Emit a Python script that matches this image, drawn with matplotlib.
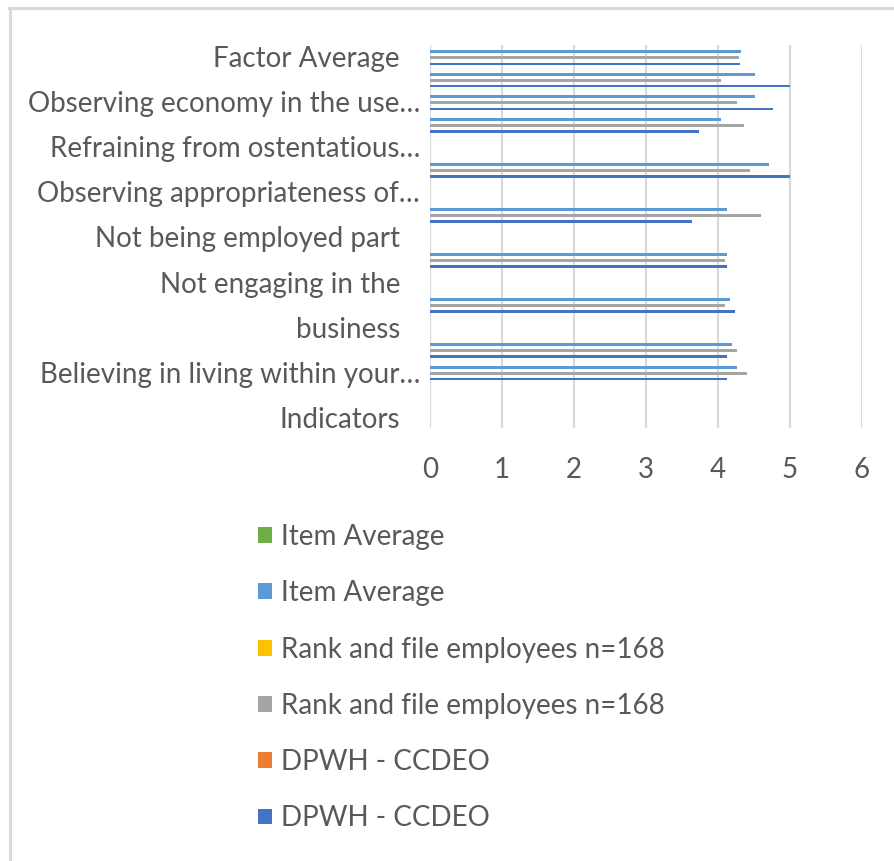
import numpy as np
import matplotlib
matplotlib.use("Agg")
import matplotlib.pyplot as plt
from matplotlib.lines import Line2D
from matplotlib.transforms import offset_copy

plt.rcParams["font.family"] = ["Lato", "DejaVu Sans"]

# Categories, listed top to bottom as they appear on the chart
categories = [
    "Factor Average", "", "Observing economy in the use…", "",
    "Refraining from ostentatious…", "", "Observing appropriateness of…", "",
    "Not being employed part", "", "Not engaging in the", "",
    "business", "", "Believing in living within your…", "", "Indicators",
]

nan = np.nan
item_average_green = [nan] * len(categories)
item_average_blue = [4.32, 4.51, 4.51, 4.04, nan, 4.71, nan, 4.12, nan,
                     4.12, nan, 4.17, nan, 4.19, 4.26, nan, nan]
rank_file_yellow = [nan] * len(categories)
rank_file_gray = [4.29, 4.04, 4.26, 4.36, nan, 4.44, nan, 4.60, nan,
                  4.10, nan, 4.10, nan, 4.26, 4.40, nan, nan]
dpwh_orange = [nan] * len(categories)
dpwh_blue = [4.31, 5.00, 4.76, 3.74, nan, 5.00, nan, 3.64, nan,
             4.12, nan, 4.24, nan, 4.12, 4.12, nan, nan]

series_labels = ["Item Average", "Item Average",
                 "Rank and file employees n=168", "Rank and file employees n=168",
                 "DPWH - CCDEO", "DPWH - CCDEO"]
x_ticks = [0, 1, 2, 3, 4, 5, 6]

# series in slot order within each group, top slot first
series = [item_average_green, item_average_blue, rank_file_yellow,
          rank_file_gray, dpwh_orange, dpwh_blue]
colors = ["#70AD47", "#5B9BD5", "#FFC000", "#A5A5A5", "#ED7D31", "#4472C4"]
thickness = [0.14, 0.14, 0.13, 0.13, 0.105, 0.105]

TEXT = "#595959"
GRID = "#D9D9D9"

W, H = 894, 861
fig = plt.figure(figsize=(W / 100, H / 100), dpi=100)
ax = fig.add_axes([430 / W, 1 - 428 / H, 432 / W, 383 / H])

n = len(categories)
ypos = np.arange(n)[::-1]
slot = 0.8 / 6
containers = []
for k, (vals, col, th) in enumerate(zip(series, colors, thickness)):
    off = (2.5 - k) * slot
    bc = ax.barh(ypos + off, np.array(vals, dtype=float), height=th,
                 color=col, zorder=3)
    containers.append(bc)

ax.set_xlim(0, 6)
ax.set_ylim(-0.5, n - 0.5)
ax.set_xticks(x_ticks)
ax.set_xticklabels([str(t) for t in x_ticks])
ax.tick_params(axis="x", length=0, pad=21, labelsize=20, labelcolor=TEXT)
ax.set_yticks([])
ax.xaxis.grid(True, color=GRID, linewidth=1.6)
ax.set_axisbelow(True)
for s in ax.spines.values():
    s.set_visible(False)

# category labels, right-aligned left of the plot area
for y, lab in zip(ypos, categories):
    if not lab:
        continue
    dx = -10 if lab.endswith("…") else -30
    tr = offset_copy(ax.get_yaxis_transform(), fig=fig, x=dx, y=-3, units="dots")
    ax.text(0, y, lab, transform=tr, ha="right", va="center",
            fontsize=20, color=TEXT)

fig.legend(containers, series_labels, loc="upper left",
           bbox_to_anchor=(258 / W, 1 - 524 / H), frameon=False,
           fontsize=20, labelcolor=TEXT, handlelength=0.5, handleheight=0.5,
           handletextpad=0.32, labelspacing=1.09, borderpad=0, borderaxespad=0)

# chart frame
fig.add_artist(Line2D([9 / W, 1], [1 - 7.5 / H] * 2, transform=fig.transFigure,
                      color=GRID, linewidth=2.2))
fig.add_artist(Line2D([9.5 / W] * 2, [0, 1 - 7.5 / H], transform=fig.transFigure,
                      color=GRID, linewidth=2.2))

fig.savefig("out.png", dpi=100)
